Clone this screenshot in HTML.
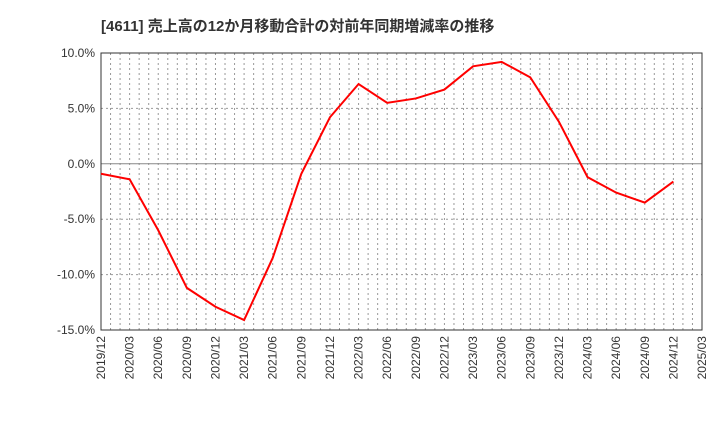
<!DOCTYPE html>
<html><head><meta charset="utf-8"><style>
body{margin:0;background:#fff;font-family:"Liberation Sans","Noto Sans CJK JP",sans-serif}
</style></head><body>
<svg width="720" height="440" id="c" xmlns="http://www.w3.org/2000/svg">
<text x="101" y="31" font-size="15" font-weight="bold" fill="#333" font-family="Liberation Sans, Noto Sans CJK JP, sans-serif">[4611]  売上高の12か月移動合計の対前年同期増減率の推移</text>
</svg>
<script>
const categories=["2019/12","2020/03","2020/06","2020/09","2020/12","2021/03","2021/06","2021/09","2021/12","2022/03","2022/06","2022/09","2022/12","2023/03","2023/06","2023/09","2023/12","2024/03","2024/06","2024/09","2024/12","2025/03"];
const values=[-0.9,-1.4,-6.0,-11.2,-12.9,-14.1,-8.5,-0.9,4.2,7.2,5.5,5.9,6.7,8.8,9.2,7.8,3.8,-1.2,-2.6,-3.5,-1.6];
const yTicks=[10,5,0,-5,-10,-15];
const yLabels=["10.0%","5.0%","0.0%","-5.0%","-10.0%","-15.0%"];
const svg=document.getElementById('c');const NS="http://www.w3.org/2000/svg";
const L=101,R=702,T=53,B=330;
const x=i=>L+(R-L)*i/(categories.length-1);
const y=v=>T+(10-v)/25*(B-T);
function mk(t,a,p){const e=document.createElementNS(NS,t);for(const k in a)e.setAttribute(k,a[k]);(p||svg).appendChild(e);return e;}
const g=mk('g',{});
for(let m=1;m<(categories.length-1)*3;m++){const xx=L+(R-L)*m/((categories.length-1)*3);mk('line',{x1:xx,x2:xx,y1:T,y2:B,stroke:'#999','stroke-dasharray':'2,3','stroke-width':1},g);}
yTicks.forEach((v,i)=>{if(v!==10&&v!==-15){const l=mk('line',{x1:L,x2:R,y1:y(v),y2:y(v),stroke:v===0?'#888':'#999','stroke-dasharray':v===0?'':'2,3','stroke-width':1},g);}
const t=mk('text',{x:L-6,y:y(v)+4,'text-anchor':'end','font-size':12,fill:'#333'});t.textContent=yLabels[i];
});
categories.forEach((c,i)=>{const t=mk('text',{transform:`translate(${x(i)+4},${B+6}) rotate(-90)`,'text-anchor':'end','font-size':12,fill:'#333'});t.textContent=c;
});
const f=mk('rect',{x:L,y:T,width:R-L,height:B-T,fill:'none',stroke:'#333','stroke-width':1});

const p=mk('polyline',{points:values.map((v,i)=>x(i)+','+y(v)).join(' '),fill:'none',stroke:'#f00','stroke-width':2});

</script>
</body></html>
